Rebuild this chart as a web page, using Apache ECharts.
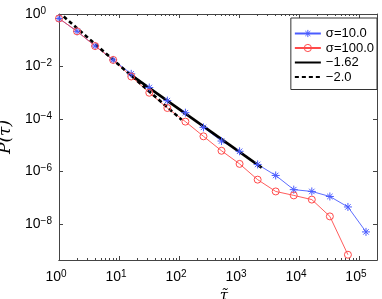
<!DOCTYPE html>
<html><head><meta charset="utf-8">
<script src="https://cdn.jsdelivr.net/npm/echarts@6/dist/echarts.min.js"></script>
<style>html,body{margin:0;padding:0;background:#fff}#c{width:382px;height:299px}</style>
</head><body><div id="c"></div>
<script>
// ---- data ----
const tau = [1, 2, 4, 8, 16, 32, 64, 128, 256, 512, 1024, 2048, 4096, 8192, 16384, 32768, 65536, 131072];
const pSigma10 = [0.676, 0.219, 0.0603, 0.0178, 0.00525, 0.00158, 5.01e-4, 1.74e-4, 4.79e-5, 1.45e-5, 5.89e-6, 1.86e-6, 7.08e-7, 2.04e-7, 1.74e-7, 1.12e-7, 4.47e-8, 5.01e-9];
const pSigma100 = [0.676, 0.219, 0.0603, 0.0178, 0.00417, 0.001, 2.63e-4, 7.94e-5, 2.19e-5, 6.17e-6, 1.95e-6, 4.90e-7, 1.74e-7, 1.23e-7, 8.51e-8, 1.95e-8, 6.76e-10];
const fit162X = [14.3, 2390];
const fit162Y = [5.6e-3, 1.41e-6];
const fit2X = [1.2, 111];
const fit2Y = [0.80, 9.3e-5];
const seriesNames = ['σ=10.0', 'σ=100.0', '\u22121.62', '\u22122.0'];
const xMajorTicks = [1, 10, 100, 1000, 10000, 100000];
const xMinorTicks = [2,3,4,5,6,7,8,9, 20,30,40,50,60,70,80,90, 200,300,400,500,600,700,800,900,
  2000,3000,4000,5000,6000,7000,8000,9000, 20000,30000,40000,50000,60000,70000,80000,90000];
const yMajorTicks = [1, 1e-2, 1e-4, 1e-6, 1e-8];
const xRange = [1, 2e5];
const yRange = [4.26e-10, 1];

// ---- chart ----
const pairs = (xs, ys) => ys.map((y, i) => [xs[i], y]);
const axisColor = '#444';
const tickFont = '"Liberation Sans Narrow","Liberation Sans",Arial,sans-serif';
const nameFont = '"DejaVu Serif","Liberation Serif",serif';
function powLabel(v) {
  const e = Math.round(Math.log10(v));
  return '{b|10}{e|' + (e < 0 ? '\u2212' + (-e) : e) + '}';
}
const richX = {
  b: {fontSize: 14, lineHeight: 16, fontFamily: tickFont, color: '#000'},
  e: {fontSize: 10, lineHeight: 10, verticalAlign: 'top', fontFamily: tickFont, color: '#000', padding: [0, 6, 0, 0]}
};
const richY = {
  b: {fontSize: 14, lineHeight: 16, fontFamily: tickFont, color: '#000'},
  e: {fontSize: 10, lineHeight: 10, verticalAlign: 'top', fontFamily: tickFont, color: '#000'}
};
function xAxisDef(pos, ticks, len, withLabels) {
  const a = {
    type: 'log', logBase: 10, min: xRange[0], max: xRange[1], position: pos,
    axisLine: {show: true, onZero: false, lineStyle: {color: axisColor, width: 1}},
    splitLine: {show: false}, minorTick: {show: false},
    axisTick: {show: true, inside: true, length: len, customValues: ticks, lineStyle: {color: axisColor, width: 1}},
    axisLabel: {show: false}
  };
  if (withLabels) {
    a.axisLabel = {show: true, customValues: xMajorTicks, margin: 9, formatter: powLabel, rich: richX};
    a.name = '\u03C4\u0303';
    a.nameLocation = 'middle';
    a.nameGap = 20;
    a.nameTextStyle = {fontFamily: nameFont, fontStyle: 'italic', fontSize: 15, color: '#000', padding: [0, 0, 0, 12]};
  }
  return a;
}
function yAxisDef(pos, withLabels) {
  const a = {
    type: 'log', logBase: 10, min: yRange[0], max: yRange[1], position: pos,
    axisLine: {show: true, onZero: false, lineStyle: {color: axisColor, width: 1}},
    splitLine: {show: false}, minorTick: {show: false},
    axisTick: {show: true, inside: true, length: 4, customValues: yMajorTicks, lineStyle: {color: axisColor, width: 1}},
    axisLabel: {show: false}
  };
  if (withLabels) {
    a.axisLabel = {show: true, customValues: yMajorTicks, margin: 34, align: 'left', formatter: powLabel, rich: richY};
    a.name = 'P(\u03C4\u0303)';
    a.nameLocation = 'middle';
    a.nameRotate = 90;
    a.nameGap = 36;
    a.nameTextStyle = {fontFamily: nameFont, fontStyle: 'italic', fontSize: 17, color: '#000'};
  }
  return a;
}
const blue = '#4a5cff', red = '#ff4a4a';
const clear = 'rgba(255,255,255,0)';
const asterisk = 'path://M5,0L5,10M0,5L10,5M1.6,1.6L8.4,8.4M1.6,8.4L8.4,1.6';
const option = {
  animation: false,
  backgroundColor: '#fff',
  grid: {left: 59, top: 14, width: 318, height: 246, containLabel: false, outerBoundsMode: 'none'},
  xAxis: [
    xAxisDef('bottom', xMajorTicks, 4, true),
    xAxisDef('top', xMajorTicks, 4, false),
    xAxisDef('bottom', xMinorTicks, 2, false),
    xAxisDef('top', xMinorTicks, 2, false)
  ],
  yAxis: [yAxisDef('left', true), yAxisDef('right', false)],
  legend: {
    orient: 'vertical', right: 5, top: 18,
    padding: [9, 3, 6, 3], itemGap: 1.5, itemWidth: 26, itemHeight: 9,
    backgroundColor: '#fff', borderColor: '#333', borderWidth: 1, borderRadius: 0,
    textStyle: {fontSize: 13, fontFamily: '"Liberation Sans",Arial,sans-serif', color: '#000'},
    data: [
      {name: seriesNames[0], itemStyle: {color: clear, borderColor: blue, borderWidth: 1}},
      {name: seriesNames[1], itemStyle: {color: clear, borderColor: red, borderWidth: 1}},
      {name: seriesNames[2], itemStyle: {opacity: 0}},
      {name: seriesNames[3], itemStyle: {opacity: 0}}
    ]
  },
  series: [
    {name: seriesNames[0], type: 'line', data: pairs(tau, pSigma10),
     symbol: asterisk, symbolSize: 8,
     lineStyle: {color: blue, width: 0.9},
     itemStyle: {color: blue, borderColor: blue, borderWidth: 1}},
    {name: seriesNames[1], type: 'line', data: pairs(tau, pSigma100),
     symbol: 'circle', symbolSize: 7,
     lineStyle: {color: red, width: 0.9},
     itemStyle: {color: clear, borderColor: red, borderWidth: 1}},
    {name: seriesNames[2], type: 'line', data: pairs(fit162X, fit162Y), symbol: 'none',
     lineStyle: {color: '#000', width: 2.6}, itemStyle: {color: '#000'}},
    {name: seriesNames[3], type: 'line', data: pairs(fit2X, fit2Y), symbol: 'none',
     lineStyle: {color: '#000', width: 2.6, type: [4, 3]}, itemStyle: {color: '#000'}}
  ]
};
const chart = echarts.init(document.getElementById('c'), null, {renderer: 'canvas'});
chart.setOption(option);
</script>
</body></html>
